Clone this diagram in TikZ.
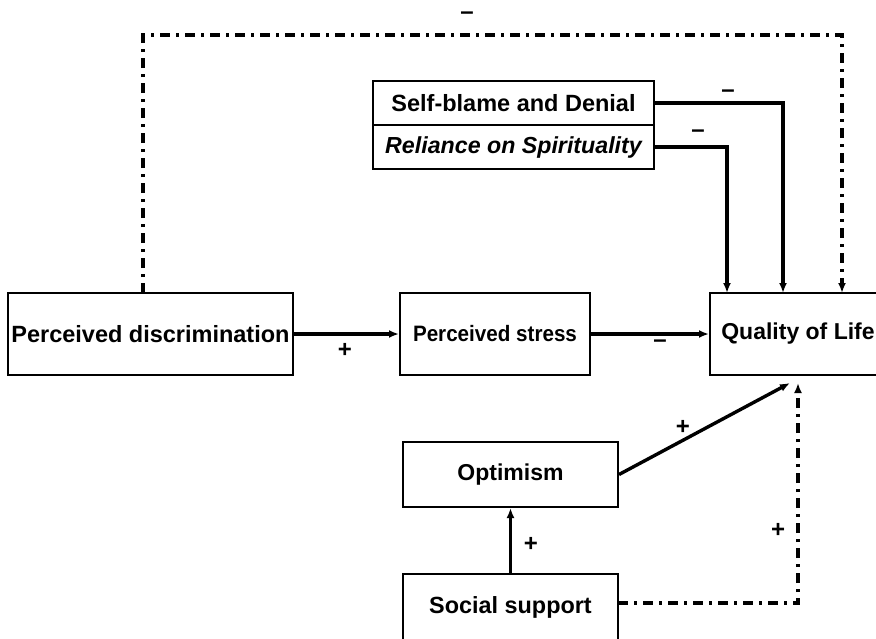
\documentclass[tikz,border=0pt]{standalone}
\usepackage{fontspec}
\setmainfont{Liberation Sans}
\usetikzlibrary{arrows.meta}
\begin{document}
\begin{tikzpicture}[x=1pt,y=-1pt,
  box/.style={draw,line width=2pt,inner sep=0pt,font=\fontsize{23.5}{26}\selectfont\bfseries},
  conn/.style={line width=3.4pt,-{Latex[length=10pt,width=8pt]}},
  dd/.style={line width=3.4pt,dash pattern=on 10pt off 6pt on 3pt off 6pt,-{Latex[length=10pt,width=8pt]}},
  sign/.style={font=\fontsize{24}{26}\selectfont\bfseries,inner sep=0pt}]
\clip (0,0) rectangle (876,638);
\useasboundingbox (0,0) rectangle (876,638);
% boxes
\node[box,minimum width=285pt,minimum height=82pt] (pd) at (150.5,334) {Perceived discrimination};
\node[box,minimum width=190pt,minimum height=82pt,font=\fontsize{22.3}{24}\selectfont\bfseries] (ps) at (495,334) {\scalebox{0.925}[1]{Perceived stress}};
\node[box,minimum width=176pt,minimum height=82pt,font=\fontsize{23}{26}\selectfont\bfseries] (qol) at (798,334) {Quality of Life};
\node[box,minimum width=281pt,minimum height=44pt] (sbd) at (513.5,103) {Self-blame and Denial};
\node[box,minimum width=281pt,minimum height=44pt,font=\fontsize{23.2}{26}\selectfont\bfseries\itshape] (ros) at (513.5,147) {Reliance on Spirituality};
\node[box,minimum width=215pt,minimum height=65pt,font=\fontsize{23}{26}\selectfont\bfseries] (opt) at (510.5,474.5) {Optimism};
\node[box,minimum width=215pt,minimum height=90pt] (ssbox) at (510.5,619) {};
\node[sign,font=\fontsize{23.4}{26}\selectfont\bfseries] (ss) at (510.5,607) {Social support};
% coordinates
\coordinate (sbdturn) at (783,103);
\coordinate (rosturn) at (727,147);
\coordinate (pdtop) at (143,293);
\coordinate (tl) at (143,35);
\coordinate (tr) at (842,35);
\coordinate (qoltopr) at (842,293);
\coordinate (qolsb) at (783,293);
\coordinate (qolrs) at (727,293);
\coordinate (optend) at (790,383);
\coordinate (ssr) at (618,603);
\coordinate (ssturn) at (798,603);
\coordinate (qolbot) at (798,383);
% connectors
\draw[conn] (pd.east) -- (ps.west);
\draw[conn] (ps.east) -- (qol.west);
\draw[conn] (sbd.east) -- (sbdturn) -- (qolsb);
\draw[conn] (ros.east) -- (rosturn) -- (qolrs);
\draw[dd] (pdtop) -- (tl) -- (tr) -- (qoltopr);
\draw[conn] (opt.east) -- (optend);
\draw[dd] (ssr) -- (ssturn) -- (qolbot);
\draw[conn] (ssbox.north -| opt.south) -- (opt.south);
% signs
\node[sign] (m1) at (467,16) {–};
\node[sign] (m2) at (728,94) {–};
\node[sign] (m3) at (698,134) {–};
\node[sign] (m4) at (660,344) {–};
\node[sign] (p1) at (345,350) {+};
\node[sign] (p2) at (683,427) {+};
\node[sign] (p3) at (778,530) {+};
\node[sign] (p4) at (531,544) {+};
\end{tikzpicture}
\end{document}
